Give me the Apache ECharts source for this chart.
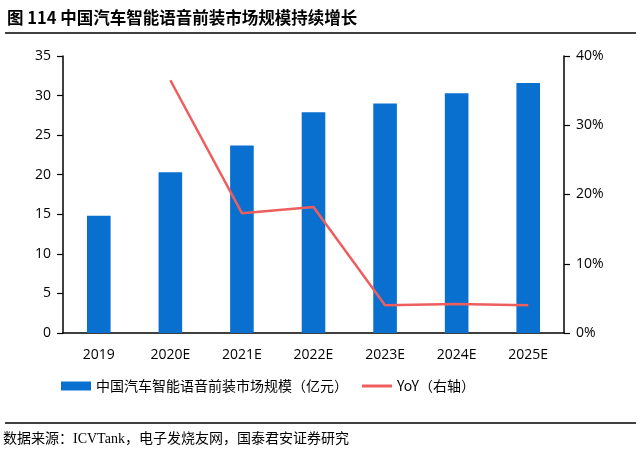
<!DOCTYPE html>
<html><head><meta charset="utf-8">
<script src="https://cdn.jsdelivr.net/npm/echarts@6/dist/echarts.min.js"></script>
<style>html,body{margin:0;padding:0;background:#fff;}#c{width:640px;height:454px;}</style>
</head><body><div id="c"></div>
<script>
var categories = ['2019','2020E','2021E','2022E','2023E','2024E','2025E'];
var marketSize = [14.8, 20.3, 23.7, 27.9, 29.0, 30.3, 31.6];
var yoy = [null, 36.5, 17.3, 18.2, 4.0, 4.2, 4.0];
var leftTicks = [0, 35, 5];
var rightTicks = [0, 40, 10];
var barName = '中国汽车智能语音前装市场规模（亿元）';
var lineName = 'YoY（右轴）';
var titleText = '图 114 中国汽车智能语音前装市场规模持续增长';
var sourceText = '数据来源：ICVTank，电子发烧友网，国泰君安证券研究';

var chart = echarts.init(document.getElementById('c'), null, {renderer:'canvas'});
var axisFont = {color:'#000', fontSize:14, fontFamily:'"Open Sans","Noto Sans",sans-serif'};
chart.setOption({
  animation:false,
  backgroundColor:'#fff',
  grid:{left:63, right:76, top:56, bottom:121, containLabel:false},
  legend:{
    top:374, left:56, itemGap:14, itemWidth:30, itemHeight:9,
    textStyle:{color:'#000', fontSize:14, fontFamily:'"Noto Sans CJK SC",sans-serif'},
    data:[{name:barName, icon:'rect'}, {name:lineName, icon:'path://M0,0 L30,0 L30,3 L0,3 Z', itemStyle:{color:'#EE5E5E'}}]
  },
  xAxis:{
    type:'category', data:categories,
    axisLine:{lineStyle:{color:'#000', width:1.5}},
    axisTick:{show:false},
    axisLabel:Object.assign({margin:15}, axisFont)
  },
  yAxis:[{
    type:'value', min:leftTicks[0], max:leftTicks[1], interval:leftTicks[2],
    axisLine:{show:true, lineStyle:{color:'#000', width:1.5}},
    axisTick:{show:true, length:6, lineStyle:{color:'#000', width:1.2}},
    splitLine:{show:false},
    axisLabel:Object.assign({margin:12}, axisFont)
  },{
    type:'value', min:rightTicks[0], max:rightTicks[1], interval:rightTicks[2],
    position:'right',
    axisLine:{show:true, lineStyle:{color:'#000', width:1.5}},
    axisTick:{show:true, length:6, lineStyle:{color:'#000', width:1.2}},
    splitLine:{show:false},
    axisLabel:Object.assign({margin:12, formatter:'{value}%'}, axisFont)
  }],
  series:[{
    name:barName, type:'bar', data:marketSize, barWidth:'33%',
    itemStyle:{color:'#0A70D0'}
  },{
    name:lineName, type:'line', yAxisIndex:1, data:yoy,
    symbol:'none', connectNulls:false,
    lineStyle:{color:'#EE5E5E', width:2.5},
    itemStyle:{color:'#EE5E5E'}
  }],
  graphic:[
    {type:'text', left:7, top:9, style:{text:titleText, fill:'#000', font:'bold 16.5px "Noto Sans CJK SC", sans-serif'}},
    {type:'line', shape:{x1:5, y1:33, x2:636, y2:33}, style:{stroke:'#000', lineWidth:1.5}},
    {type:'line', shape:{x1:5, y1:423, x2:636, y2:423}, style:{stroke:'#000', lineWidth:1.5}},
    {type:'text', left:3, top:432, style:{text:sourceText, fill:'#000', font:'14px "Liberation Serif","Noto Sans CJK SC", serif'}}
  ]
});
</script></body></html>
